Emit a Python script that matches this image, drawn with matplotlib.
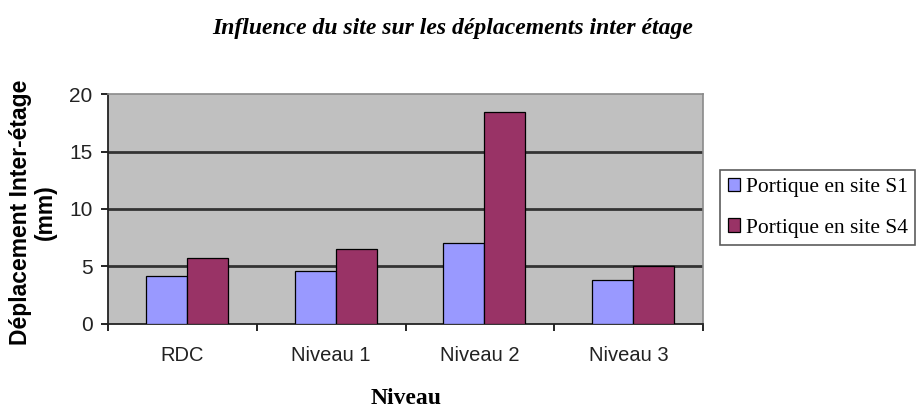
import matplotlib
matplotlib.use("Agg")
import matplotlib.pyplot as plt
import numpy as np

categories = ["RDC", "Niveau 1", "Niveau 2", "Niveau 3"]
s1_values = [4.15, 4.6, 7.0, 3.8]
s4_values = [5.7, 6.55, 18.4, 5.0]
series_names = ["Portique en site S1", "Portique en site S4"]
yticks = [0, 5, 10, 15, 20]

fig = plt.figure(figsize=(9.16, 4.07), dpi=100)
ax = fig.add_axes([0.1179, 0.204, 0.6496, 0.565])
ax.set_facecolor("#C0C0C0")

x = np.arange(len(categories))
w = 0.276
ax.bar(x - w/2 + 0.03, s1_values, w, color="#9999FF", edgecolor="black", linewidth=0.9, label=series_names[0], zorder=3)
ax.bar(x + w/2 + 0.03, s4_values, w, color="#993366", edgecolor="black", linewidth=0.9, label=series_names[1], zorder=3)

ax.set_xlim(-0.5, len(categories) - 0.5)
ax.set_ylim(0, 20)
ax.set_yticks(yticks)
for yv in yticks[1:-1]:
    ax.axhline(yv, color="#333333", linewidth=2.0, zorder=1)
ax.set_xticks(x)
ax.set_xticklabels(categories, fontsize=14.5, family="Liberation Sans", color="#222222")
ax.set_xticks(np.arange(-0.5, len(categories)), minor=True)
ax.tick_params(axis="x", which="major", length=0, pad=16)
ax.tick_params(axis="x", which="minor", length=5, direction="out", width=1.2)
ax.tick_params(axis="y", length=5, width=1.2, labelsize=15, pad=6, labelcolor="#222222")
for lbl in ax.get_yticklabels():
    lbl.set_family("Liberation Sans")
for s in ["top", "right"]:
    ax.spines[s].set_color("#8a8a8a")
    ax.spines[s].set_linewidth(1.2)
for s in ["left", "bottom"]:
    ax.spines[s].set_linewidth(1.3)
    ax.spines[s].set_color("#222222")

fig.text(0.494, 0.93, "Influence du site sur les déplacements inter étage",
         ha="center", va="center", fontsize=17, style="italic", weight="bold", family="Liberation Serif")
fig.text(0.443, 0.022, "Niveau", ha="center", va="center", fontsize=17, weight="bold", family="Liberation Serif")
fig.text(0.036, 0.479, "Déplacement Inter-étage\n(mm)", ha="center", va="center", rotation=90,
         fontsize=16.5, weight="bold", family="Liberation Sans", linespacing=1.15)

leg = ax.legend(loc="upper left", bbox_to_anchor=(720/916, 1 - 170/407), bbox_transform=fig.transFigure,
                prop={"family": "Liberation Serif", "size": 15.5}, frameon=True, fancybox=False,
                edgecolor="#333333", handlelength=0.6, handleheight=0.6, handletextpad=0.25,
                borderpad=0.35, labelspacing=1.0, borderaxespad=0)
leg.get_frame().set_linewidth(1.2)

fig.savefig("out.png", dpi=100)
